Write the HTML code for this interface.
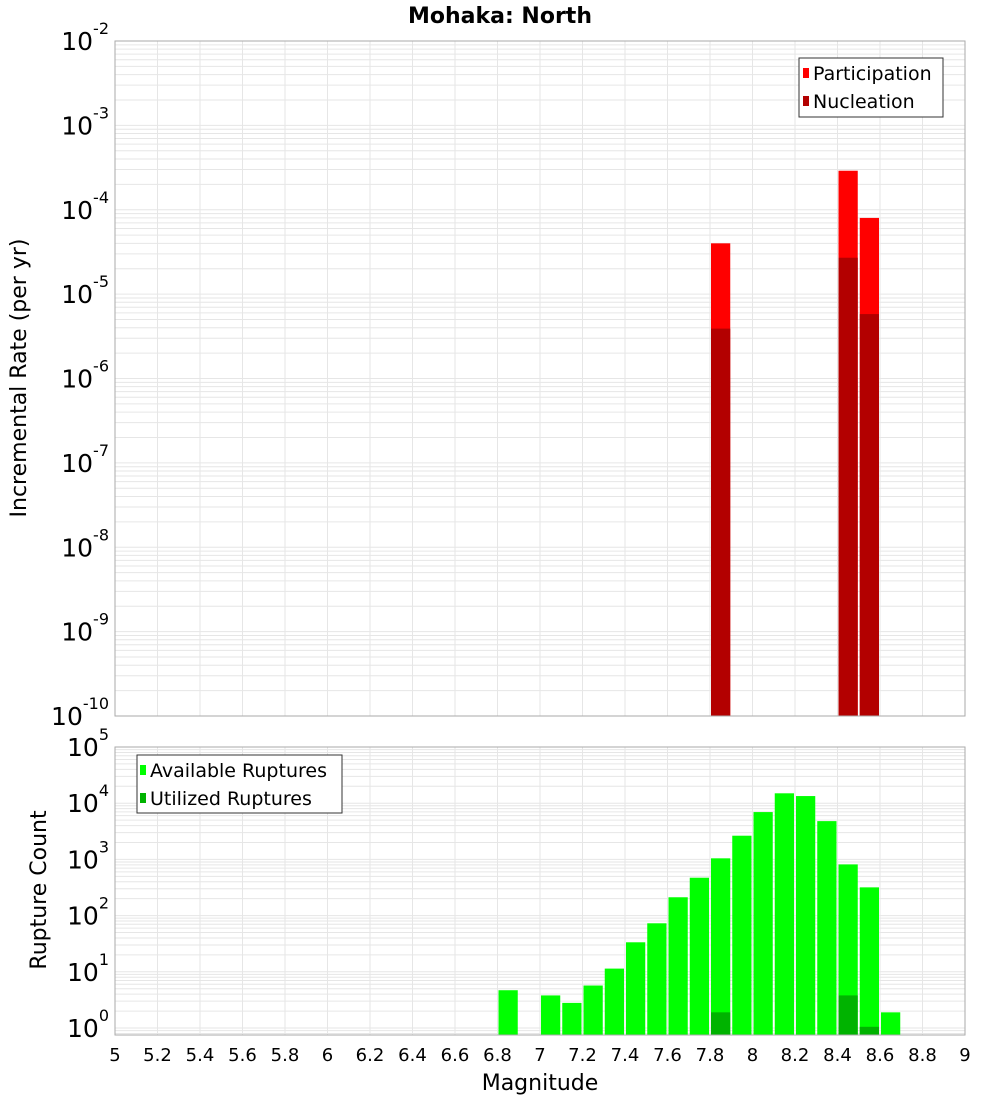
<!DOCTYPE html>
<html><head><meta charset="utf-8"><style>
html,body{margin:0;padding:0;background:#fff;}
svg{display:block;font-family:"DejaVu Sans","Liberation Sans",sans-serif;}
</style></head><body>
<svg id="chart" width="1000" height="1100" viewBox="0 0 1000 1100" xmlns="http://www.w3.org/2000/svg">
<text x="500" y="23" text-anchor="middle" font-size="22" font-weight="bold">Mohaka: North</text>
<g id="top"></g>
<g id="bot"></g>
<text transform="translate(26,378) rotate(-90)" text-anchor="middle" font-size="22">Incremental Rate (per yr)</text>
<text transform="translate(46,890) rotate(-90)" text-anchor="middle" font-size="22">Rupture Count</text>
<text x="540" y="1090" text-anchor="middle" font-size="22">Magnitude</text>
</svg>
<script>
// data
const topBins = [7.8, 8.4, 8.5];
const participation = [4.0e-5, 2.9e-4, 8.0e-5];
const nucleation = [3.9e-6, 2.7e-5, 5.8e-6];
const botBins = [6.8, 7.0, 7.1, 7.2, 7.3, 7.4, 7.5, 7.6, 7.7, 7.8, 7.9, 8.0, 8.1, 8.2, 8.3, 8.4, 8.5, 8.6];
const available = [4.7, 3.8, 2.8, 5.7, 11.4, 33.5, 73, 212, 472, 1045, 2640, 6950, 15000, 13400, 4800, 815, 318, 1.9];
const utilBins = [7.8, 8.4, 8.5];
const utilized = [1.9, 3.8, 1.05];
const xTicks = ["5","5.2","5.4","5.6","5.8","6","6.2","6.4","6.6","6.8","7","7.2","7.4","7.6","7.8","8","8.2","8.4","8.6","8.8","9"];

const NS = "http://www.w3.org/2000/svg";
const X0 = 115, X1 = 965;
const xs = m => X0 + (m - 5) / 4 * (X1 - X0);
function mk(parent, tag, attrs, txt) {
  const e = document.createElementNS(NS, tag);
  for (const k in attrs) e.setAttribute(k, attrs[k]);
  if (txt !== undefined) e.textContent = txt;
  parent.appendChild(e);
  return e;
}
function panel(g, top, bottom, ysc, dMin, dMax, yBot) {
  for (let d = dMin - 1; d <= dMax; d++) {
    for (let k = 1; k <= 9; k++) {
      const y = ysc(Math.pow(10, d) * k);
      if (y < top - 0.5 || y > bottom + 0.5) continue;
      const l = mk(g, "line", {x1: X0, x2: X1, y1: y, y2: y, stroke: "#e6e6e6", "stroke-width": 1});
      
      
    }
  }
  for (let i = 0; i < xTicks.length; i++) {
    const x = xs(parseFloat(xTicks[i]));
    const l = mk(g, "line", {x1: x, x2: x, y1: top, y2: bottom, stroke: "#e6e6e6", "stroke-width": 1});
    
    
  }
  for (let d = dMin; d <= dMax; d++) {
    const y = ysc(Math.pow(10, d));
    const t = mk(g, "text", {x: 109, y: y + 9, "text-anchor": "end", "font-size": 25});
    
    
    mk(t, "tspan", {}, "10");
    mk(t, "tspan", {dy: -16, "font-size": 16}, String(d));
  }
}
// top panel
const tg = document.getElementById("top");
const T0 = 41, T1 = 716;
const ysT = v => T0 + (-2 - Math.log10(v)) * (T1 - T0) / 8;
panel(tg, T0, T1, ysT, -10, -2);
for (let i = 0; i < topBins.length; i++) {
  const x = xs(topBins[i]) + 1, w = xs(topBins[i] + 0.1) - xs(topBins[i]) - 2;
  const p = mk(tg, "rect", {x: x, y: ysT(participation[i]), width: w, height: T1 - ysT(participation[i]), fill: "#ff0000"});
  
  
  const n = mk(tg, "rect", {x: x, y: ysT(nucleation[i]), width: w, height: T1 - ysT(nucleation[i]), fill: "#b30000"});
  
  
}
const tb = mk(tg, "rect", {x: X0, y: T0, width: X1 - X0, height: T1 - T0, fill: "none", stroke: "#aaaaaa"});


// top legend
const tl = mk(tg, "g", {});


mk(tl, "rect", {x: 799, y: 58, width: 144, height: 59, fill: "#fff", stroke: "#333"});
mk(tl, "rect", {x: 803, y: 68, width: 6, height: 10, fill: "#ff0000"});
mk(tl, "text", {x: 813, y: 80, "font-size": 19}, "Participation");
mk(tl, "rect", {x: 803, y: 96, width: 6, height: 10, fill: "#b30000"});
mk(tl, "text", {x: 813, y: 108, "font-size": 19}, "Nucleation");
// bottom panel
const bg = document.getElementById("bot");
const B0 = 747, B1 = 1035, BONE = 1028;
const ysB = v => BONE - Math.log10(v) * (BONE - B0) / 5;
panel(bg, B0, B1, ysB, 0, 5);
for (let i = 0; i < botBins.length; i++) {
  const x = xs(botBins[i]) + 1, w = xs(botBins[i] + 0.1) - xs(botBins[i]) - 2;
  const r = mk(bg, "rect", {x: x, y: ysB(available[i]), width: w, height: B1 - ysB(available[i]), fill: "#00ff00"});
  
  
}
for (let i = 0; i < utilBins.length; i++) {
  const x = xs(utilBins[i]) + 1, w = xs(utilBins[i] + 0.1) - xs(utilBins[i]) - 2;
  const r = mk(bg, "rect", {x: x, y: ysB(utilized[i]), width: w, height: B1 - ysB(utilized[i]), fill: "#00b300"});
  
  
}
const bb = mk(bg, "rect", {x: X0, y: B0, width: X1 - X0, height: B1 - B0, fill: "none", stroke: "#aaaaaa"});


for (let i = 0; i < xTicks.length; i++) {
  const t = mk(bg, "text", {x: xs(parseFloat(xTicks[i])), y: 1061, "text-anchor": "middle", "font-size": 18}, xTicks[i]);
  
  
}
const bl = mk(bg, "g", {});


mk(bl, "rect", {x: 137, y: 755, width: 205, height: 58, fill: "#fff", stroke: "#333"});
mk(bl, "rect", {x: 140, y: 765, width: 6, height: 10, fill: "#00ff00"});
mk(bl, "text", {x: 150, y: 777, "font-size": 19}, "Available Ruptures");
mk(bl, "rect", {x: 140, y: 793, width: 6, height: 10, fill: "#00b300"});
mk(bl, "text", {x: 150, y: 805, "font-size": 19}, "Utilized Ruptures");
</script>
</body></html>
